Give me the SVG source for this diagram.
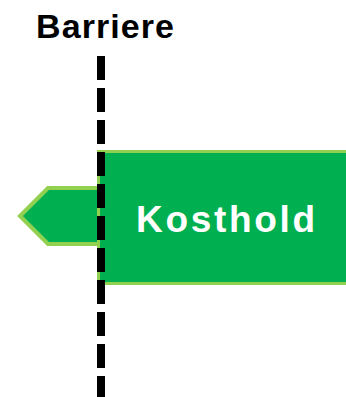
<svg xmlns="http://www.w3.org/2000/svg" width="346" height="397" viewBox="0 0 346 397">
<style>
.shape{fill:#00B050;stroke:#92D050;}
.lbl{font-family:"Liberation Sans",Arial,sans-serif;font-weight:bold;}
</style>
<rect width="346" height="397" fill="#ffffff"/>
<g id="barriere-label">
<text class="lbl" x="36" y="38.3" font-size="34" fill="#000000" textLength="138" lengthAdjust="spacing">Barriere</text>
</g>
<g id="arrow">
<polygon class="shape" stroke-width="4" stroke-linejoin="miter" points="48,188 100,188 100,244 48,244 20,216"/>
</g>
<g id="kosthold">
<rect class="shape" stroke-width="3" x="98.5" y="151.5" width="260" height="132"/>
<text class="lbl" x="136" y="231.5" font-size="37" fill="#ffffff" textLength="179" lengthAdjust="spacing">Kosthold</text>
</g>
<g id="connectors">
<line x1="101" y1="56" x2="101" y2="397" stroke="#000000" stroke-width="8" stroke-dasharray="24 8"/>
</g>
</svg>
